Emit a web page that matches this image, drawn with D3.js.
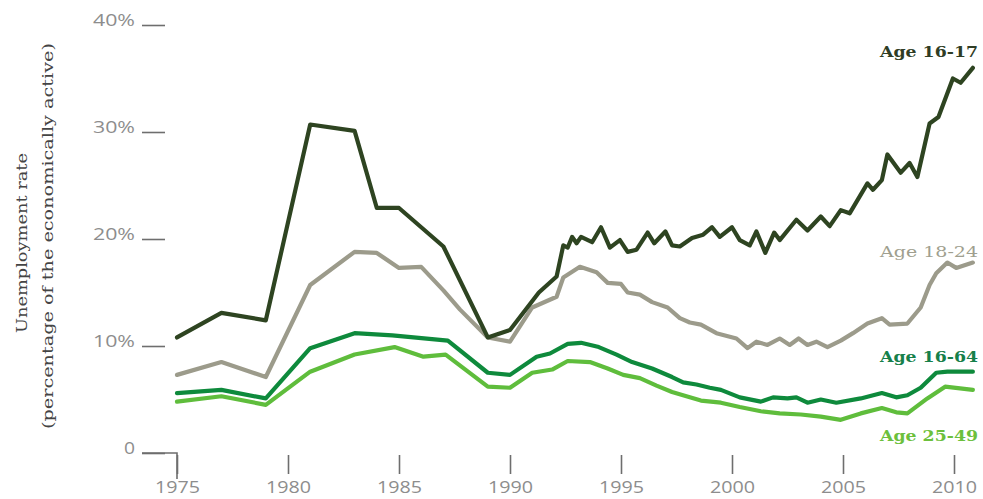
<!DOCTYPE html>
<html>
<head>
<meta charset="utf-8">
<script src="https://cdn.jsdelivr.net/npm/d3@7"></script>
<style>
  html, body { margin: 0; padding: 0; background: #ffffff; }
  svg { display: block; }
</style>
</head>
<body>
<svg id="chart" width="983" height="499"></svg>
<script>
// ---- Data ----
const yTicks = [0, 10, 20, 30, 40];
const yTickLabels = ["0", "10%", "20%", "30%", "40%"];
const xTicks = [1975, 1980, 1985, 1990, 1995, 2000, 2005, 2010];
const seriesNames = ["Age 16-17", "Age 18-24", "Age 16-64", "Age 25-49"];

const age1617 = [[1975,10.8],[1977,13.1],[1979,12.4],[1981,30.7],[1983,30.1],[1984,22.9],[1985,22.9],[1987,19.3],[1989,10.8],[1990,11.5],[1991.3,15.0],[1992.1,16.5],[1992.4,19.4],[1992.6,19.2],[1992.8,20.2],[1993.0,19.6],[1993.2,20.2],[1993.7,19.7],[1994.1,21.1],[1994.5,19.2],[1994.95,19.9],[1995.3,18.8],[1995.7,19.0],[1996.2,20.6],[1996.5,19.6],[1997.0,20.7],[1997.3,19.4],[1997.65,19.3],[1998.2,20.1],[1998.7,20.4],[1999.1,21.1],[1999.45,20.2],[2000.0,21.1],[2000.35,19.9],[2000.8,19.4],[2001.1,20.7],[2001.5,18.7],[2001.9,20.6],[2002.15,19.9],[2002.9,21.8],[2003.4,20.8],[2004.0,22.1],[2004.4,21.2],[2004.9,22.7],[2005.3,22.4],[2006.1,25.2],[2006.35,24.6],[2006.75,25.5],[2007.0,27.9],[2007.6,26.2],[2008.0,27.1],[2008.35,25.8],[2008.9,30.8],[2009.3,31.4],[2009.95,35.0],[2010.3,34.6],[2010.85,36.0]];

const age1824 = [[1975,7.3],[1977,8.5],[1979,7.1],[1981,15.7],[1983,18.8],[1984,18.7],[1985,17.3],[1986,17.4],[1987,15.2],[1987.75,13.4],[1989,10.8],[1990,10.4],[1991,13.6],[1992.1,14.6],[1992.4,16.4],[1993.15,17.4],[1993.9,16.9],[1994.4,15.9],[1995.0,15.8],[1995.3,15.0],[1995.85,14.8],[1996.4,14.1],[1997.1,13.6],[1997.65,12.6],[1998.1,12.2],[1998.6,12.0],[1999.3,11.2],[2000.2,10.7],[2000.7,9.8],[2001.1,10.4],[2001.6,10.1],[2002.15,10.7],[2002.6,10.1],[2003.0,10.7],[2003.4,10.1],[2003.8,10.4],[2004.3,9.9],[2004.9,10.5],[2005.45,11.2],[2006.1,12.1],[2006.75,12.6],[2007.1,12.0],[2007.9,12.1],[2008.5,13.6],[2008.9,15.7],[2009.2,16.8],[2009.7,17.8],[2010.1,17.3],[2010.85,17.8]];

const age1664 = [[1975,5.6],[1977,5.9],[1979,5.1],[1981,9.8],[1983,11.2],[1984.7,11.0],[1987.2,10.5],[1989,7.5],[1990,7.3],[1991.2,9.0],[1991.8,9.3],[1992.6,10.2],[1993.2,10.3],[1994.0,9.9],[1994.8,9.2],[1995.5,8.5],[1996.4,7.9],[1997.3,7.1],[1997.8,6.6],[1998.4,6.4],[1999.0,6.1],[1999.5,5.9],[2000.35,5.2],[2001.3,4.8],[2001.85,5.2],[2002.5,5.1],[2002.9,5.2],[2003.4,4.7],[2004.0,5.0],[2004.7,4.7],[2005.8,5.1],[2006.75,5.6],[2007.4,5.2],[2007.9,5.4],[2008.5,6.1],[2009.2,7.5],[2009.7,7.6],[2010.85,7.6]];

const age2549 = [[1975,4.8],[1977,5.3],[1979,4.5],[1981,7.6],[1983,9.2],[1984.8,9.9],[1986.1,9.0],[1987.1,9.2],[1989,6.2],[1990,6.1],[1991,7.5],[1991.9,7.8],[1992.6,8.6],[1993.6,8.5],[1994.4,7.9],[1995.1,7.3],[1995.85,7.0],[1996.6,6.3],[1997.3,5.7],[1998.1,5.2],[1998.6,4.9],[1999.5,4.7],[2000.35,4.3],[2001.3,3.9],[2002.15,3.7],[2003.1,3.6],[2004.0,3.4],[2004.9,3.1],[2005.8,3.7],[2006.75,4.2],[2007.4,3.8],[2007.9,3.7],[2008.8,5.1],[2009.6,6.2],[2010.85,5.9]];

// ---- Styling ----
const lineColors = ["#2e4421", "#9c9b8b", "#0e8a3c", "#5fbd3c"];
const labelColors = ["#2f3d25", "#a09f8f", "#16804a", "#6cc03c"];
const labelY = [57, 257, 362, 441];

const svg = d3.select("#chart");
const x = d3.scaleLinear().domain([1975, 2010]).range([177, 954]);
const y = d3.scaleLinear().domain([0, 40]).range([453, 25]);

const axisColor = "#6e6e6e";
const tickTextColor = "#8d8d8d";

// Y axis
const yAxis = d3.axisLeft(y)
  .tickValues(yTicks)
  .tickSize(23)
  .tickPadding(7)
  .tickFormat((d, i) => yTickLabels[i]);
const gy = svg.append("g").attr("transform", "translate(165,0)").call(yAxis);
gy.select(".domain").remove();
gy.selectAll(".tick line").attr("stroke", axisColor).attr("stroke-width", 1.6);
gy.selectAll(".tick text")
  .attr("fill", tickTextColor)
  .attr("font-family", "'Open Sans', sans-serif")
  .attr("font-size", 16)
  .attr("dy", "0.05em")
  .each(function(d) {
    d3.select(this).attr("textLength", d === 0 ? 11 : 42).attr("lengthAdjust", "spacingAndGlyphs");
  });

// X axis
const xAxis = d3.axisBottom(x)
  .tickValues(xTicks)
  .tickSize(19)
  .tickPadding(8)
  .tickFormat(d3.format("d"));
const gx = svg.append("g").attr("transform", "translate(0,455)").call(xAxis);
gx.select(".domain").remove();
gx.selectAll(".tick line").attr("stroke", axisColor).attr("stroke-width", 1.6);
gx.selectAll(".tick text")
  .attr("fill", tickTextColor)
  .attr("font-family", "'Open Sans', sans-serif")
  .attr("font-size", 16)
  .attr("dy", "0.66em")
  .attr("textLength", 45)
  .attr("lengthAdjust", "spacingAndGlyphs");

// zero baseline connecting to 1975 tick
svg.append("path")
  .attr("d", `M142,${y(0)}H${x(1975)}V${y(0) + 26}`)
  .attr("fill", "none")
  .attr("stroke", axisColor)
  .attr("stroke-width", 1.6);

// Y axis title
const titleG = svg.append("g").attr("font-family", "'DejaVu Serif', serif").attr("fill", "#444");
titleG.append("text")
  .attr("transform", "translate(27,243) rotate(-90)")
  .attr("text-anchor", "middle")
  .attr("font-size", 14)
  .attr("textLength", 180)
  .attr("lengthAdjust", "spacingAndGlyphs")
  .text("Unemployment rate");
titleG.append("text")
  .attr("transform", "translate(53,236) rotate(-90)")
  .attr("text-anchor", "middle")
  .attr("font-size", 14)
  .attr("textLength", 386)
  .attr("lengthAdjust", "spacingAndGlyphs")
  .text("(percentage of the economically active)");

// Lines
const allSeries = [age1617, age1824, age1664, age2549];
const line = d3.line().x(d => x(d[0])).y(d => y(d[1]));
const drawOrder = [1, 0, 2, 3];
drawOrder.forEach(i => {
  svg.append("path")
    .datum(allSeries[i])
    .attr("d", line)
    .attr("fill", "none")
    .attr("stroke", lineColors[i])
    .attr("stroke-width", 4.2)
    .attr("stroke-linejoin", "round")
    .attr("stroke-linecap", "round");
});

// Series labels
seriesNames.forEach((name, i) => {
  svg.append("text")
    .attr("x", 978)
    .attr("y", labelY[i])
    .attr("text-anchor", "end")
    .attr("font-family", "'DejaVu Serif', serif")
    .attr("font-size", 15)
    .attr("font-weight", i === 1 ? "normal" : "bold")
    .attr("fill", labelColors[i])
    .attr("textLength", 98)
    .attr("lengthAdjust", "spacingAndGlyphs")
    .text(name);
});
</script>
</body>
</html>
